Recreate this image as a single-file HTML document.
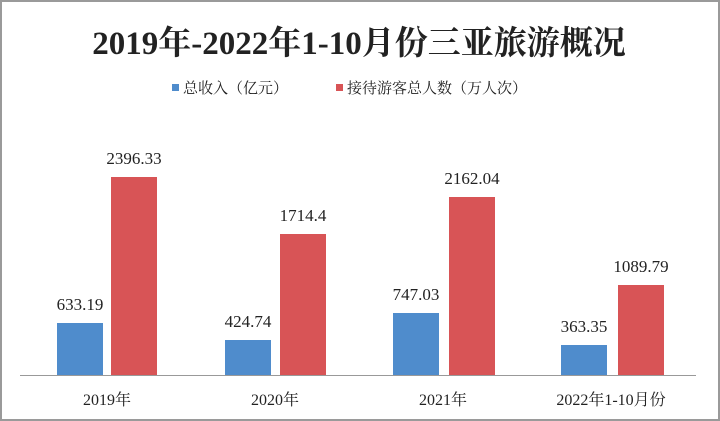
<!DOCTYPE html>
<html><head><meta charset="utf-8"><style>
body{margin:0;background:#fff;}
svg{display:block;}
text{font-family:"Liberation Serif","Noto Serif CJK SC",serif;fill:#222;}
</style></head><body>
<svg width="720" height="421" viewBox="0 0 720 421">
<rect x="1" y="1" width="718" height="419" fill="#fff" stroke="#9a9a9a" stroke-width="2"/>
<text x="359" y="54" font-size="33" font-weight="bold" text-anchor="middle" fill="#000">2019年-2022年1-10月份三亚旅游概况</text>
<rect x="172" y="84" width="7" height="7" fill="#4f8ccc"/>
<text x="183" y="93" font-size="15">总收入（亿元）</text>
<rect x="336" y="84" width="7" height="7" fill="#d85456"/>
<text x="347" y="93" font-size="15">接待游客总人数（万人次）</text>
<line x1="20" y1="375.5" x2="696" y2="375.5" stroke="#999" stroke-width="1"/>
<g fill="#4f8ccc">
<rect x="57" y="323" width="46" height="52"/>
<rect x="225" y="340" width="46" height="35"/>
<rect x="393" y="313" width="46" height="62"/>
<rect x="561" y="345" width="46" height="30"/>
</g>
<g fill="#d85456">
<rect x="111" y="177" width="46" height="198"/>
<rect x="280" y="234" width="46" height="141"/>
<rect x="449" y="197" width="46" height="178"/>
<rect x="618" y="285" width="46" height="90"/>
</g>
<g font-size="17" text-anchor="middle">
<text x="80" y="310">633.19</text>
<text x="134" y="164">2396.33</text>
<text x="248" y="327">424.74</text>
<text x="303" y="221">1714.4</text>
<text x="416" y="300">747.03</text>
<text x="472" y="184">2162.04</text>
<text x="584" y="332">363.35</text>
<text x="641" y="272">1089.79</text>
</g>
<g font-size="16" text-anchor="middle">
<text x="107" y="405">2019年</text>
<text x="275" y="405">2020年</text>
<text x="443" y="405">2021年</text>
<text x="611" y="405">2022年1-10月份</text>
</g>
</svg>
</body></html>
